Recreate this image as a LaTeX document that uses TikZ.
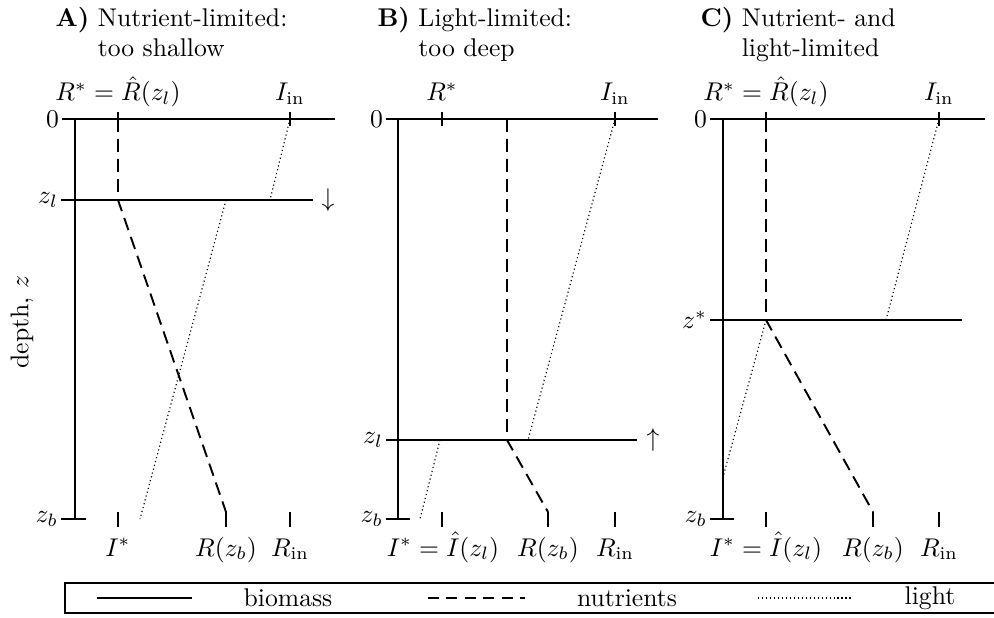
\documentclass[tikz,border=0pt]{standalone}
\usepackage{amsmath}
\usepackage{tikz}

\begin{document}
\begin{tikzpicture}[
    x=0.39pt, y=-0.39pt,
    biomass/.style={line width=0.6pt},
    nutrients/.style={line width=0.75pt, dash pattern=on 5pt off 2.8pt},
    lightline/.style={line width=0.45pt, dash pattern=on 0.45pt off 1.1pt},
    tickmark/.style={line width=0.6pt},
    paneltitle/.style={anchor=north west, inner sep=0pt, align=left},
    axislabel/.style={anchor=base, inner sep=0pt},
    depthlabel/.style={anchor=east, inner sep=1pt},
    legendtext/.style={inner sep=0pt}
]
\useasboundingbox (0,0) rectangle (994,617);
\renewcommand{\arraystretch}{0.95}

% Panel titles
\node (titleA) [paneltitle] at (55,6) {\begin{tabular}{@{}l@{\ }l@{}}\textbf{A)} & Nutrient-limited:\\ & too shallow\end{tabular}};
\node (titleB) [paneltitle] at (377,6) {\begin{tabular}{@{}l@{\ }l@{}}\textbf{B)} & Light-limited:\\ & too deep\end{tabular}};
\node (titleC) [paneltitle] at (700,6) {\begin{tabular}{@{}l@{\ }l@{}}\textbf{C)} & Nutrient- and\\ & light-limited\end{tabular}};

\node (depth) [rotate=90] at (22,322) {depth, $z$};

% Panel A: nutrient-limited
\node (Azero) [depthlabel] at (62,119) {$0$};
\node (Azl) [depthlabel] at (61,200) {$z_l$};
\node (Azb) [depthlabel] at (61,519) {$z_b$};
\node (ARstar) [axislabel] at (118,101) {$R^* = \hat{R}(z_l)$};
\node (AIin) [axislabel] at (290,101) {$I_{\text{in}}$};
\node (AIstar) [axislabel] at (118,556) {$I^*$};
\node (ARzb) [axislabel] at (226,556) {$R(z_b)$};
\node (ARin) [axislabel] at (290,556) {$R_{\text{in}}$};
\node (Adown) at (328,200) {$\downarrow$};

\draw [biomass] (Azero.east) -- (335,119);
\draw [biomass] (75,119) -- (75,519);
\draw [biomass] (Azb.east) -- (86,519);
\draw [biomass] (Azl.east) -- (313,200);
\draw [tickmark] (118,112) -- (118,126);
\draw [tickmark] (290,112) -- (290,126);
\draw [tickmark] (118,512) -- (118,527);
\draw [tickmark] (226,512) -- (226,527);
\draw [tickmark] (290,512) -- (290,527);
\draw [nutrients] (118,119) -- (118,200) -- (226,512);
\draw [lightline] (290,119) -- (270,200);
\draw [lightline] (226,200) -- (140,519);

% Panel B: light-limited
\node (Bzero) [depthlabel] at (386,119) {$0$};
\node (Bzl) [depthlabel] at (386,440) {$z_l$};
\node (Bzb) [depthlabel] at (386,519) {$z_b$};
\node (BRstar) [axislabel] at (442,101) {$R^*$};
\node (BIin) [axislabel] at (615,101) {$I_{\text{in}}$};
\node (BIstar) [axislabel] at (443,556) {$I^* = \hat{I}(z_l)$};
\node (BRzb) [axislabel] at (548,556) {$R(z_b)$};
\node (BRin) [axislabel] at (615,556) {$R_{\text{in}}$};
\node (Bup) at (653,440) {$\uparrow$};

\draw [biomass] (Bzero.east) -- (658,119);
\draw [biomass] (398,119) -- (398,519);
\draw [biomass] (Bzb.east) -- (410,519);
\draw [biomass] (Bzl.east) -- (637,440);
\draw [tickmark] (442,112) -- (442,126);
\draw [tickmark] (615,112) -- (615,126);
\draw [tickmark] (442,512) -- (442,527);
\draw [tickmark] (548,512) -- (548,527);
\draw [tickmark] (615,512) -- (615,527);
\draw [nutrients] (507,119) -- (507,440) -- (548,512);
\draw [lightline] (615,119) -- (528,440);
\draw [lightline] (440,440) -- (420,519);

% Panel C: nutrient- and light-limited
\node (Czero) [depthlabel] at (710,119) {$0$};
\node (Czs) [depthlabel] at (710,320) {$z^*$};
\node (Czb) [depthlabel] at (710,519) {$z_b$};
\node (CRstar) [axislabel] at (766,101) {$R^* = \hat{R}(z_l)$};
\node (CIin) [axislabel] at (939,101) {$I_{\text{in}}$};
\node (CIstar) [axislabel] at (766,556) {$I^* = \hat{I}(z_l)$};
\node (CRzb) [axislabel] at (873,556) {$R(z_b)$};
\node (CRin) [axislabel] at (939,556) {$R_{\text{in}}$};

\draw [biomass] (Czero.east) -- (985,119);
\draw [biomass] (723,119) -- (723,519);
\draw [biomass] (Czb.east) -- (734,519);
\draw [biomass] (Czs.east) -- (962,320);
\draw [tickmark] (766,112) -- (766,126);
\draw [tickmark] (939,112) -- (939,126);
\draw [tickmark] (766,512) -- (766,527);
\draw [tickmark] (873,512) -- (873,527);
\draw [tickmark] (939,512) -- (939,527);
\draw [nutrients] (766,119) -- (766,320) -- (873,512);
\draw [lightline] (939,119) -- (886,320);
\draw [lightline] (766,320) -- (723,477);

% Legend
\draw [biomass] (994,583) -- (65,583) -- (65,613) -- (994,613);
\draw [biomass] (97,598) -- (192,598);
\node (legbio) [legendtext] at (288,598) {biomass};
\draw [nutrients, dash pattern=on 4.2pt off 3pt] (428,598) -- (525,598);
\node (legnut) [legendtext] at (627,598) {nutrients};
\draw [lightline] (758,598) -- (853,598);
\node (leglight) [legendtext] at (930,598) {light};
\end{tikzpicture}
\end{document}
